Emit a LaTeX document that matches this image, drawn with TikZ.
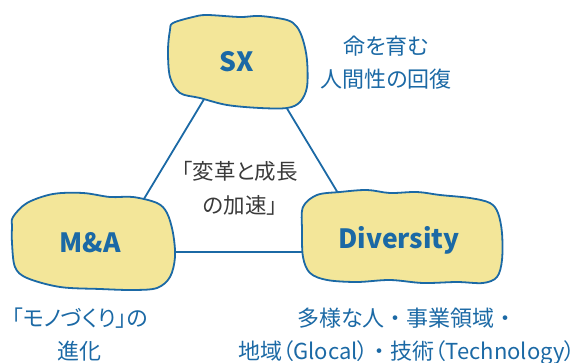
\documentclass[tikz,border=0pt]{standalone}
\usepackage{fontspec}
\setmainfont{Noto Sans CJK JP}[RawFeature=+palt]
\newfontfamily\fullw{Noto Sans CJK JP}
\definecolor{blobblue}{HTML}{1B69A5}
\definecolor{blobfill}{HTML}{F3E699}
\definecolor{darktext}{HTML}{3A3A3A}
\tikzset{
  blob/.style={draw=blobblue, fill=blobfill, line width=1.8pt, line join=round},
  link/.style={draw=blobblue, line width=1.8pt},
  biglabel/.style={text=blobblue, font=\fontsize{26.5}{30}\selectfont\bfseries, inner sep=0pt},
  note/.style={text=blobblue, font=\fontsize{22}{33}\selectfont, align=center, inner sep=0pt},
  centernote/.style={text=darktext, font=\fontsize{21.5}{34}\selectfont, align=center, inner sep=0pt}
}
\begin{document}
\begin{tikzpicture}[x=1pt,y=-1pt]
\useasboundingbox (0,0) rectangle (587,363);
% triangle vertices
\coordinate (tA) at (242.7,35);
\coordinate (tB) at (112,252);
\coordinate (tC) at (373.5,252);
\draw[link] (tA) -- (tB) -- (tC) -- cycle;
% SX blob
\path[blob] plot[smooth cycle, tension=0.55] coordinates {
 (173,23) (193,17) (207,15) (240,17) (260,16) (287,20) (297,27) (303,40)
 (307,60) (307,87) (300,102) (287,108) (260,108) (227,105) (200,98)
 (180,93) (170,77) (168,50) (170,30)};
% M&A blob
\path[blob] plot[smooth cycle, tension=0.55] coordinates {
 (13,217) (27,203) (53,194) (83,193) (110,197) (133,197) (157,203) (167,213)
 (173,233) (175,257) (170,277) (157,288) (133,290) (100,289) (60,287)
 (27,278) (15,267) (12,243) (12,227)};
% Diversity blob
\path[blob] plot[smooth cycle, tension=0.55] coordinates {
 (303,207) (317,195) (340,192) (367,190) (390,193) (417,192) (440,195)
 (470,198) (490,203) (498,213) (502,233) (502,260) (497,277) (483,283)
 (457,282) (423,283) (390,280) (357,282) (327,280) (310,273) (303,257) (302,230)};
% labels
\node[biglabel] (sx) at (237,62) {SX};
\node[biglabel] (ma) at (90,243) {M\&A};
\node[biglabel] (div) at (399,240) {Diversity};
\node[note] (sxnote) at (386,63) {命を育む\\人間性の回復};
\node[centernote] (mid) at (240,188) {「変革と成長\\の加速」};
\node[note] (manote) at (80,335) {「モノづくり」の\\進化};
\node[note] (divnote) at (407,336) {多様な人{\fullw ・}事業領域{\fullw ・}\\地域（Glocal）{\fullw ・}技術（Technology）};
\end{tikzpicture}
\end{document}
